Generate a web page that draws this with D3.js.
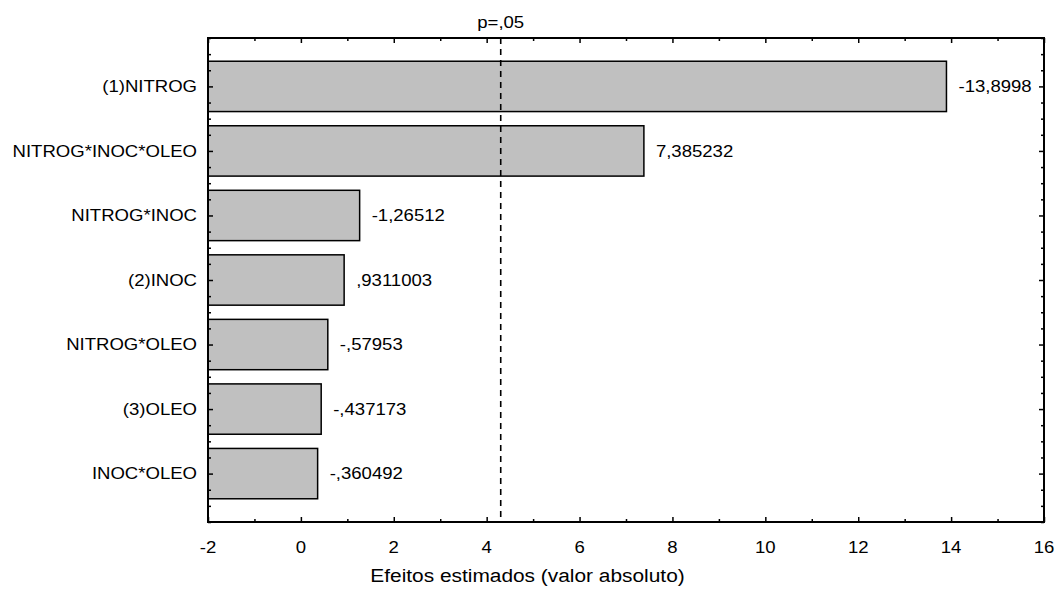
<!DOCTYPE html>
<html>
<head>
<meta charset="utf-8">
<script src="https://cdn.jsdelivr.net/npm/d3@7"></script>
<style>
  html, body { margin: 0; padding: 0; background: #fff; }
  svg text { font-family: Arial, "Liberation Sans", sans-serif; fill: #000; }
</style>
</head>
<body>
<div id="chart"></div>
<script>
// Pareto chart of standardized effects
const factors = ['(1)NITROG', 'NITROG*INOC*OLEO', 'NITROG*INOC', '(2)INOC', 'NITROG*OLEO', '(3)OLEO', 'INOC*OLEO'];
const effects = [-13.8998, 7.385232, -1.26512, 0.9311003, -0.57953, -0.437173, -0.360492];
const xTicks = [-2, 0, 2, 4, 6, 8, 10, 12, 14, 16];
const pCritical = 4.302653;
const pLabel = 'p=,05';
const xTitle = 'Efeitos estimados (valor absoluto)';

const width = 1055, height = 589;
const margin = { top: 38, right: 11, bottom: 67, left: 208 };
const stretch = 1.16; // source text is wider than plain Arial

const svg = d3.select('#chart').append('svg')
    .attr('width', width)
    .attr('height', height);

const x = d3.scaleLinear()
    .domain([-2, 16])
    .range([margin.left, width - margin.right]);

// categories sit on integer positions 1..7
const y = d3.scaleLinear()
    .domain([0.25, factors.length + 0.75])
    .range([margin.top, height - margin.bottom]);

const barHalf = 0.39;

// statistica style numbers: "-,57953"
const locale = d3.formatLocale({ decimal: ',', thousands: '.', grouping: [3], currency: ['', ''], minus: '-' });
const fmt = v => locale.format('.7~g')(v).replace(/^(-?)0,/, '$1,');

// stretched text helper
function label(g, tx, ty, txt, size, anchor) {
    return g.append('text')
        .attr('transform', `translate(${tx},${ty}) scale(${stretch},1)`)
        .attr('dy', '0.35em')
        .attr('text-anchor', anchor)
        .style('font-size', size + 'px')
        .text(txt);
}

// BARS
svg.append('g')
  .selectAll('rect')
  .data(effects)
  .join('rect')
    .attr('x', x(-2))
    .attr('y', (d, i) => y(i + 1 - barHalf))
    .attr('width', d => x(Math.abs(d)) - x(-2))
    .attr('height', y(1 + barHalf) - y(1 - barHalf))
    .attr('fill', '#c0c0c0')
    .attr('stroke', '#000')
    .attr('stroke-width', 1.5);

// VALUE LABELS
const vals = svg.append('g');
effects.forEach((d, i) => label(vals, x(Math.abs(d)) + 12, y(i + 1), fmt(d), 16, 'start'));

// CRITICAL LINE
svg.append('line')
    .attr('x1', x(pCritical)).attr('x2', x(pCritical))
    .attr('y1', margin.top).attr('y2', height - margin.bottom)
    .attr('stroke', '#000')
    .attr('stroke-width', 1.6)
    .attr('stroke-dasharray', '6,5');

label(svg, x(pCritical), margin.top - 16, pLabel, 16, 'middle');

// AXES (ticks pointing inward on all four sides)
const xMinor = d3.range(-2, 16.01, 1);
const yMinor = d3.range(0.25, factors.length + 0.76, 0.25);
const isMajorX = v => Math.abs(v % 2) < 1e-9;
const isMajorY = v => Math.abs(v - Math.round(v)) < 1e-9;

const bottom = svg.append('g').attr('transform', `translate(0,${height - margin.bottom})`);
bottom.call(d3.axisBottom(x).tickValues(xMinor).tickSize(0).tickFormat(''))
    .call(g => g.select('.domain').remove())
    .call(g => g.selectAll('.tick line').attr('y2', d => isMajorX(d) ? -5 : -3).attr('stroke-width', 1.5));
xTicks.forEach(t => label(bottom, x(t), 25, t, 16, 'middle'));

svg.append('g').attr('transform', `translate(0,${margin.top})`)
    .call(d3.axisTop(x).tickValues(xMinor).tickSize(0).tickFormat(''))
    .call(g => g.select('.domain').remove())
    .call(g => g.selectAll('.tick line').attr('y2', d => isMajorX(d) ? 5 : 3).attr('stroke-width', 1.5));

const left = svg.append('g').attr('transform', `translate(${margin.left},0)`);
left.call(d3.axisLeft(y).tickValues(yMinor).tickSize(0).tickFormat(''))
    .call(g => g.select('.domain').remove())
    .call(g => g.selectAll('.tick line').attr('x2', d => isMajorY(d) ? 5 : 3).attr('stroke-width', 1.5));
factors.forEach((f, i) => label(left, -11, y(i + 1), f, 16, 'end'));

svg.append('g').attr('transform', `translate(${width - margin.right},0)`)
    .call(d3.axisRight(y).tickValues(yMinor).tickSize(0).tickFormat(''))
    .call(g => g.select('.domain').remove())
    .call(g => g.selectAll('.tick line').attr('x2', d => isMajorY(d) ? -5 : -3).attr('stroke-width', 1.5));

// FRAME
svg.append('rect')
    .attr('x', margin.left).attr('y', margin.top)
    .attr('width', width - margin.left - margin.right)
    .attr('height', height - margin.top - margin.bottom)
    .attr('fill', 'none')
    .attr('stroke', '#000')
    .attr('stroke-width', 2);

// AXIS TITLE (centred on the whole picture, as in the source)
label(svg, width / 2, height - 13, xTitle, 18, 'middle');
</script>
</body>
</html>
